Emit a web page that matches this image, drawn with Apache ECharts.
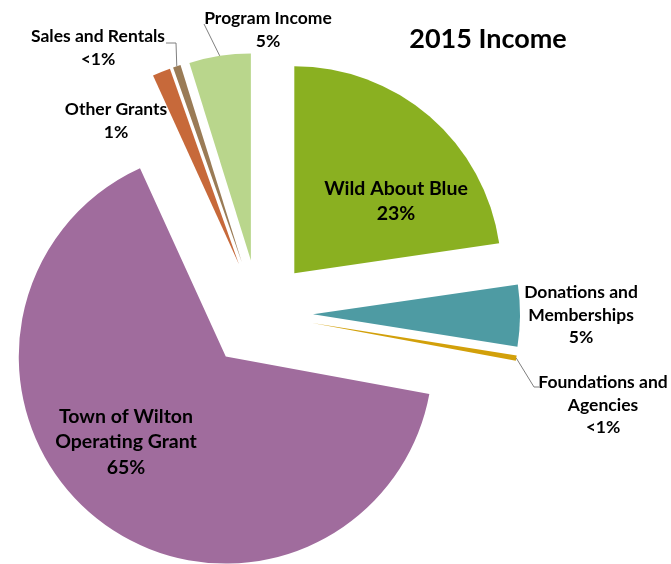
<!DOCTYPE html>
<html><head><meta charset="utf-8">
<script src="https://cdn.jsdelivr.net/npm/echarts@6/dist/echarts.min.js"></script>
<style>html,body{margin:0;padding:0;background:#fff;}#c{width:671px;height:564px;}</style>
</head><body><div id="c"></div>
<script>
const categories = ['Wild About Blue', 'Donations and\nMemberships', 'Foundations and\nAgencies', 'Town of Wilton\nOperating Grant', 'Other Grants', 'Sales and Rentals', 'Program Income'];
const values = [22.7, 4.8, 0.4, 65.3, 1.4, 0.6, 4.8];
const colors = ['#8AB021', '#4E9BA3', '#D2A00A', '#A06C9D', '#C7693A', '#9A7B56', '#B9D68C'];

const total = values.reduce((a, b) => a + b, 0);
function pctText(v) {
  const p = v / total * 100;
  return p < 1 ? '<1%' : Math.round(p) + '%';
}
// label block centre (x, y) per slice
const labelPos = [[396, 201], [581, 315], [603, 405], [126, 442], [116, 121], [98, 48], [268, 30]];
const insideLabel = [true, false, false, true, false, false, false];
// leader line bends/ends near the label (null = no leader line)
const leaderEnds = [null, null, [[534, 387], [539, 387]], null, null, [[176, 43], [166, 43]], [null, [204, 24]]];

const PIE_CENTER = [259, 314], PIE_R = 207, EXPLODE = 54;

const chart = echarts.init(document.getElementById('c'));
chart.setOption({
  animation: false,
  title: { text: '2015 Income', left: 483, top: 21, textAlign: 'center',
    textStyle: { fontFamily: 'Lato', fontWeight: 'bold', fontSize: 27, color: '#000' } },
  series: [{
    type: 'pie',
    center: PIE_CENTER,
    radius: PIE_R,
    startAngle: 90,
    clockwise: true,
    selectedMode: 'multiple',
    selectedOffset: EXPLODE,
    label: { show: false },
    labelLine: { show: false },
    emphasis: { disabled: true },
    silent: true,
    data: categories.map((c, i) => ({
      name: c, value: values[i], selected: true,
      itemStyle: { color: colors[i] }
    }))
  }, {
    // label carrier: same slices, radius reaching the exploded outer arc
    type: 'pie',
    center: PIE_CENTER,
    radius: PIE_R + EXPLODE,
    startAngle: 90,
    clockwise: true,
    silent: true,
    avoidLabelOverlap: false,
    emphasis: { disabled: true },
    itemStyle: { color: 'rgba(0,0,0,0)', borderWidth: 0 },
    label: { show: true, position: 'outside', fontFamily: 'Lato', fontWeight: 'bold', fontSize: 17.5,
      color: '#000', lineHeight: 22.5, align: 'center',
      formatter: p => p.name + '\n' + pctText(p.value) },
    labelLine: { show: true, length: 5, length2: 5, lineStyle: { color: '#7F7F7F', width: 1 } },
    labelLayout: function (params) {
      const i = params.dataIndex;
      const lp = labelPos[i];
      const out = { x: lp[0], y: lp[1], align: 'center', verticalAlign: 'middle' };
      const le = leaderEnds[i];
      if (le && params.labelLinePoints) {
        const p0 = params.labelLinePoints[0];
        const mid = le[0] || [(p0[0] + le[1][0]) / 2, (p0[1] + le[1][1]) / 2];
        out.labelLinePoints = [p0, mid, le[1]];
      }
      return out;
    },
    data: categories.map((c, i) => ({
      name: c, value: values[i],
      label: insideLabel[i]
        ? { position: 'inside', fontSize: 19.5, lineHeight: 25.5 }
        : { position: 'outside' },
      labelLine: { show: !!leaderEnds[i] }
    }))
  }]
});
</script></body></html>
